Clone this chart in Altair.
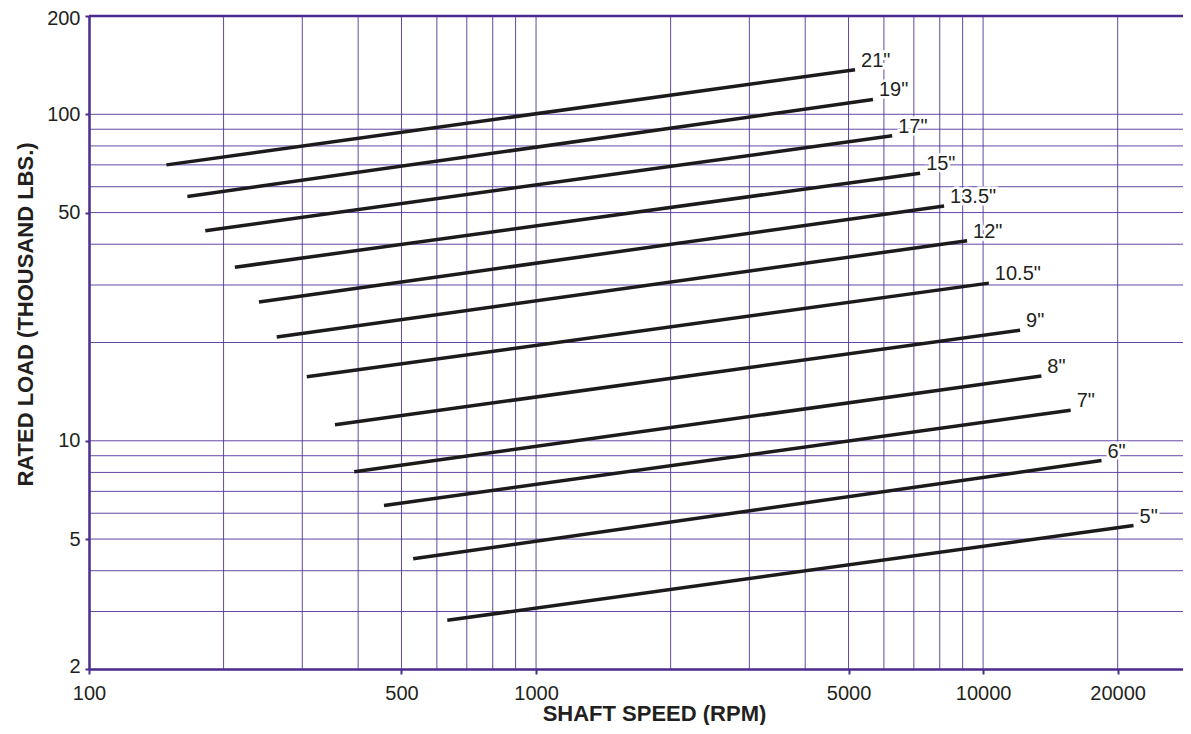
import altair as alt
import pandas as pd

# ---- data ----
sizes = ['21"', '19"', '17"', '15"', '13.5"', '12"', '10.5"', '9"', '8"', '7"', '6"', '5"']
speed_start = [149, 166, 182, 212, 240, 263, 307, 355, 392, 457, 531, 633]
load_start = [70, 56, 44, 34, 26.6, 20.8, 15.7, 11.2, 8.04, 6.34, 4.35, 2.82]
speed_end = [5170, 5670, 6260, 7230, 8180, 9210, 10300, 12100, 13500, 15700, 18400, 21700]
load_end = [137, 111, 86, 66, 52.4, 41, 30.4, 21.8, 15.8, 12.4, 8.7, 5.5]

x_domain = [100, 28000]
y_domain = [2, 200]
x_label_values = [100, 500, 1000, 5000, 10000, 20000]
y_label_values = [2, 5, 10, 50, 100, 200]
x_grid_values = [200, 300, 400, 500, 600, 700, 800, 900, 1000,
                 2000, 3000, 4000, 5000, 6000, 7000, 8000, 9000, 10000, 20000]
y_grid_values = [3, 4, 5, 6, 7, 8, 9, 10, 20, 30, 40, 50, 60, 70, 80, 90, 100]
top_border = [200]

# ---- tables ----
rows = []
for s, x0, y0, x1, y1 in zip(sizes, speed_start, load_start, speed_end, load_end):
    rows.append({"size": s, "x": x0, "y": y0, "order": 0})
    rows.append({"size": s, "x": x1, "y": y1, "order": 1})
lines_df = pd.DataFrame(rows)
labels_df = pd.DataFrame({"size": sizes, "x": speed_end, "y": load_end})

PURPLE = "#4a2b8c"
GRID = "#52349a"
FONT = "Liberation Sans"

xscale = alt.Scale(type="log", domain=x_domain, nice=False)
yscale = alt.Scale(type="log", domain=y_domain, nice=False)

x_axis = alt.Axis(
    values=x_label_values, grid=False, format="d",
    title="SHAFT SPEED (RPM)", titleX=565, titleY=44,
    titleAlign="center", titleBaseline="middle", titleAnchor="start",
    tickSize=5, labelPadding=9, labelFlush=False,
)
y_axis = alt.Axis(
    values=y_label_values, grid=False, format="d",
    title="RATED LOAD (THOUSAND LBS.)", titleX=-64, titleY=298,
    titleAngle=270, titleAlign="center", titleBaseline="middle", titleAnchor="start",
    tickSize=4, labelPadding=5, labelFlush=True, labelFlushOffset=7.5,
)


def X(field="x"):
    return alt.X(f"{field}:Q", scale=xscale, axis=x_axis)


def Y(field="y"):
    return alt.Y(f"{field}:Q", scale=yscale, axis=y_axis)


vgrid = alt.Chart(pd.DataFrame({"x": x_grid_values})).mark_rule(
    color=GRID, strokeWidth=1, opacity=0.9
).encode(x=X())

hgrid = alt.Chart(pd.DataFrame({"y": y_grid_values})).mark_rule(
    color=GRID, strokeWidth=1, opacity=0.9
).encode(y=Y())

top = alt.Chart(pd.DataFrame({"y": top_border})).mark_rule(
    color=PURPLE, strokeWidth=2.5
).encode(y=Y())

lines = alt.Chart(lines_df).mark_line(
    color="#1c1a1b", strokeWidth=3.5, strokeCap="butt"
).encode(x=X(), y=Y(), detail="size:N", order="order:Q")

halo = alt.Chart(labels_df).mark_text(
    align="left", baseline="middle", dx=6, dy=-9,
    font=FONT, fontSize=20, color="white", stroke="white", strokeWidth=5
).encode(x=X(), y=Y(), text="size:N")

labels = alt.Chart(labels_df).mark_text(
    align="left", baseline="middle", dx=6, dy=-9,
    font=FONT, fontSize=20, color="#231f20"
).encode(x=X(), y=Y(), text="size:N")

chart = alt.layer(vgrid, hgrid, top, lines, halo, labels).properties(
    width=1094, height=653,
    autosize=alt.AutoSizeParams(type="none"),
    padding={"left": 81, "top": 8, "right": 0, "bottom": 56},
).configure_view(
    stroke=None
).configure_axis(
    labelFont=FONT, labelFontSize=20, labelColor="#231f20",
    titleFont=FONT, titleFontSize=22, titleFontWeight="bold", titleColor="#231f20",
    domainColor=PURPLE, domainWidth=2.5, tickColor=PURPLE, tickWidth=2,
)

chart.save("out.html", embed_options={"renderer": "svg", "actions": False})
